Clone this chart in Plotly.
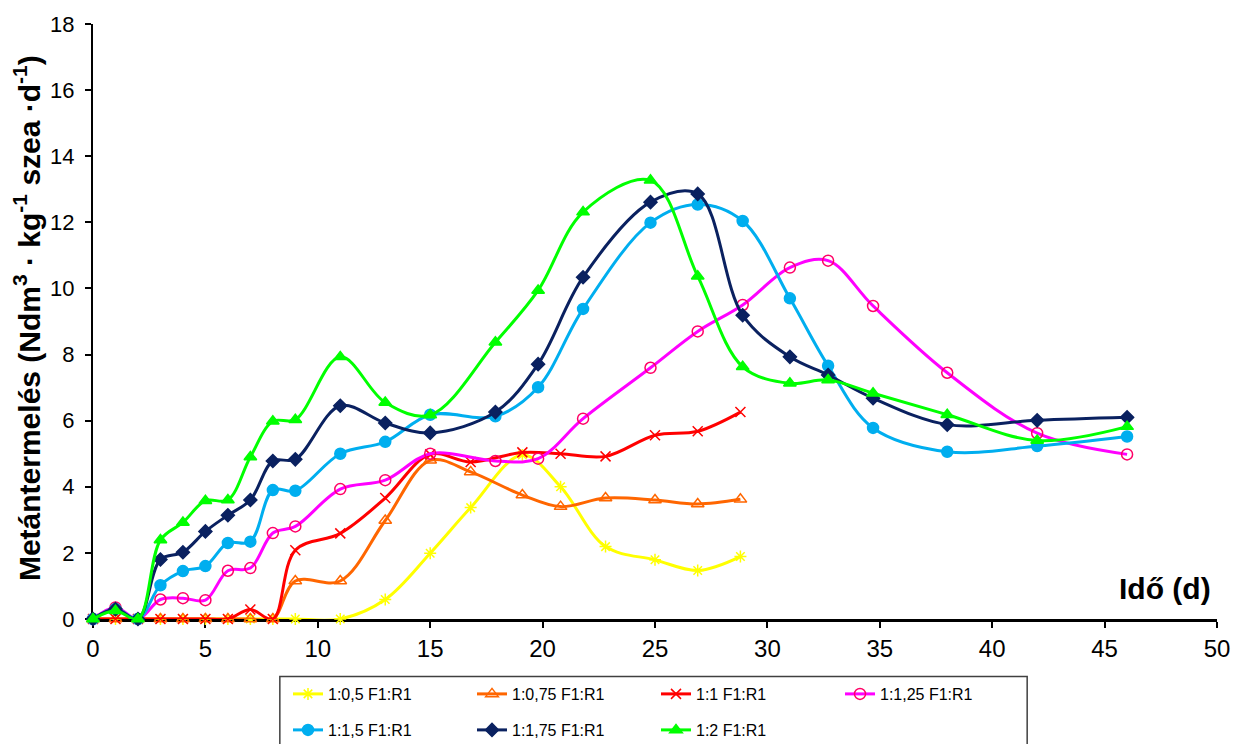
import plotly.graph_objects as go

# Measurement days for the two groups of series
days_a = [0, 1, 2, 3, 4, 5, 6, 7, 8, 9, 11, 13, 15, 17.9, 19.8, 21.8, 24.8, 26.9, 28.9, 31, 32.7, 34.7, 38, 42, 46]
days_b = [0, 1, 2, 3, 4, 5, 6, 7, 8, 9, 11, 13, 15, 16.8, 19.1, 20.8, 22.8, 25, 26.9, 28.8]

# Daily methane yield per mixing ratio (Ndm3 / kg VS / d)
y_0_5 = [0, 0, 0, 0, 0, 0, 0, 0, 0, 0, 0, 0.59, 1.99, 3.37, 4.96, 4.0, 2.19, 1.79, 1.47, 1.89]
y_0_75 = [0, 0, 0, 0, 0, 0, 0, 0, 0, 1.15, 1.15, 2.98, 4.8, 4.45, 3.75, 3.4, 3.66, 3.6, 3.48, 3.62]
y_1 = [0, 0, 0, 0, 0, 0, 0, 0.29, 0, 2.08, 2.59, 3.66, 4.98, 4.75, 5.04, 5.0, 4.92, 5.56, 5.68, 6.26]
y_1_25 = [0, 0.35, 0, 0.59, 0.63, 0.57, 1.46, 1.54, 2.6, 2.8, 3.93, 4.2, 5.0, 4.78, 4.85, 6.06,
          7.6, 8.7, 9.5, 10.63, 10.84, 9.47, 7.45, 5.62, 4.98]
y_1_5 = [0, 0.3, 0, 1.02, 1.45, 1.6, 2.3, 2.34, 3.9, 3.88, 5.0, 5.36, 6.18, 6.13, 7.01, 9.38,
         11.99, 12.54, 12.04, 9.7, 7.66, 5.78, 5.06, 5.23, 5.52]
y_1_75 = [0, 0.3, 0, 1.8, 2.02, 2.65, 3.14, 3.6, 4.78, 4.83, 6.45, 5.93, 5.63, 6.26, 7.71, 10.34,
          12.61, 12.86, 9.19, 7.93, 7.38, 6.68, 5.88, 6.01, 6.1]
y_2 = [0, 0.25, 0, 2.39, 2.92, 3.58, 3.6, 4.9, 5.98, 6.03, 7.93, 6.55, 6.17, 8.37, 9.94, 12.31,
       13.27, 10.37, 7.63, 7.13, 7.23, 6.83, 6.18, 5.4, 5.82]

names = ["1:0,5 F1:R1", "1:0,75 F1:R1", "1:1 F1:R1", "1:1,25 F1:R1",
         "1:1,5 F1:R1", "1:1,75 F1:R1", "1:2 F1:R1"]

FONT = "Arial, Liberation Sans, sans-serif"

# (x, y, line colour, marker symbol, marker colour, marker size, legend)
series = [
    (days_b, y_0_5, "#FFFF00", "asterisk-open", "#FFFF00", 10, "legend"),
    (days_b, y_0_75, "#FF6600", "triangle-up-open", "#FF6600", 11, "legend"),
    (days_b, y_1, "#FF0000", "x-thin-open", "#FF0000", 10, "legend"),
    (days_a, y_1_25, "#FF00FF", "circle-open", "#FF0066", 11, "legend"),
    (days_a, y_1_5, "#00AEEF", "circle", "#00AEEF", 11, "legend2"),
    (days_a, y_1_75, "#0A2160", "diamond", "#0A2160", 10, "legend2"),
    (days_a, y_2, "#00FF00", "triangle-up", "#00FF00", 11, "legend2"),
]

fig = go.Figure()
for (xs, ys, lc, sym, mc, ms, lg), nm in zip(series, names):
    fig.add_trace(go.Scatter(
        x=xs, y=ys, name=nm, mode="lines+markers",
        line=dict(color=lc, width=3, shape="spline", smoothing=1),
        marker=dict(symbol=sym, color=mc, size=ms, line=dict(color=mc, width=1.5)),
        cliponaxis=False, legend=lg,
    ))

W, H = 1242, 744
L, R, T, B = 93, 24, 20, 125


def px_x(p):
    return (p - L) / (W - L - R)


def px_y(p):
    return (H - B - p) / (H - T - B)


legend_common = dict(
    orientation="h", xref="container", yref="container", xanchor="left", yanchor="middle",
    font=dict(family=FONT, size=16, color="black"), bgcolor="rgba(0,0,0,0)",
    borderwidth=0, entrywidth=139, entrywidthmode="pixels", itemwidth=30,
)

fig.update_layout(
    width=W, height=H,
    margin=dict(l=L, r=R, t=T, b=B),
    paper_bgcolor="white", plot_bgcolor="white",
    font=dict(family=FONT, color="black"),
    legend=dict(x=288 / W, y=1 - 694 / H, **legend_common),
    legend2=dict(x=288 / W, y=1 - 730 / H, **legend_common),
    xaxis=dict(
        range=[0, 50], dtick=5, tick0=0, showgrid=False, zeroline=False,
        showline=True, linecolor="black", linewidth=2.5, layer="below traces",
        ticks="outside", ticklen=6, tickwidth=1.5, tickcolor="black",
        tickfont=dict(family=FONT, size=24, color="black"),
    ),
    yaxis=dict(
        range=[0, 18], dtick=2, tick0=0, showgrid=False, zeroline=False,
        showline=True, linecolor="black", linewidth=2, layer="below traces",
        ticks="outside", ticklen=6, tickwidth=1.5, tickcolor="black",
        tickfont=dict(family=FONT, size=22, color="black"),
        ticklabelstandoff=6,
    ),
    shapes=[dict(
        type="rect", xref="paper", yref="paper",
        x0=px_x(280), x1=px_x(1028), y0=px_y(677), y1=px_y(760),
        line=dict(color="#404040", width=1.5), fillcolor="rgba(0,0,0,0)",
    )],
    annotations=[
        dict(
            text="<b>Metántermelés (Ndm<sup>3</sup> · kg<sup>-1</sup> szea ·d<sup>-1</sup>)</b>",
            xref="paper", yref="paper", x=px_x(27), y=px_y(316),
            xanchor="center", yanchor="middle", textangle=-90, showarrow=False,
            font=dict(family=FONT, size=30, color="black"),
        ),
        dict(
            text="<b>Idő (d)</b>", xref="paper", yref="paper",
            x=px_x(1214), y=px_y(588), xanchor="right", yanchor="middle",
            showarrow=False, font=dict(family=FONT, size=30, color="black"),
        ),
    ],
)

fig.write_html("out.html")
